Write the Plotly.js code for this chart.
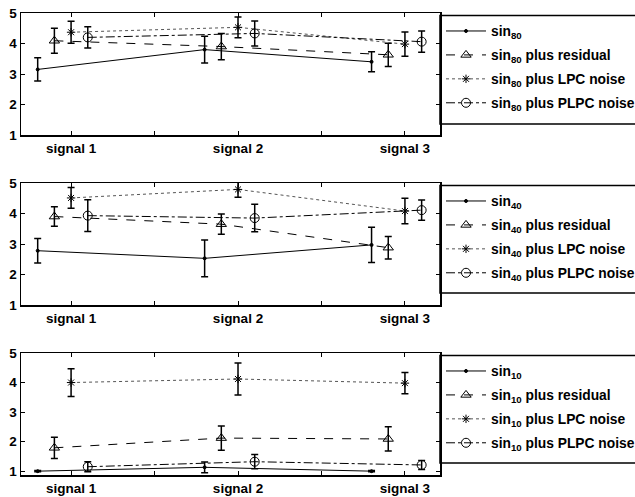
<!DOCTYPE html>
<html>
<head>
<meta charset="utf-8">
<script src="https://cdn.plot.ly/plotly-3.0.1.min.js"></script>
<style>html,body{margin:0;padding:0;background:#fff;}#chart{width:635px;height:497px;}</style>
</head>
<body>
<div id="chart"></div>
<script>
// ---- data ----
const categories = ['signal 1', 'signal 2', 'signal 3'];
const catIndex = [1, 2, 3];
const panelLabels = ['80', '40', '10'];
const seriesSuffix = ['', ' plus residual', ' plus LPC noise', ' plus PLPC noise'];

// panel 1: sin80
const sin80 = [3.15, 3.80, 3.40];
const sin80Err = [0.38, 0.44, 0.33];
const sin80Res = [4.09, 3.90, 3.63];
const sin80ResErr = [0.41, 0.43, 0.38];
const sin80Lpc = [4.37, 4.53, 3.98];
const sin80LpcErr = [0.36, 0.34, 0.40];
const sin80Plpc = [4.20, 4.33, 4.06];
const sin80PlpcErr = [0.35, 0.41, 0.35];

// panel 2: sin40
const sin40 = [2.78, 2.53, 2.97];
const sin40Err = [0.40, 0.60, 0.58];
const sin40Res = [3.90, 3.65, 2.88];
const sin40ResErr = [0.32, 0.33, 0.37];
const sin40Lpc = [4.51, 4.79, 4.08];
const sin40LpcErr = [0.34, 0.26, 0.42];
const sin40Plpc = [3.93, 3.85, 4.11];
const sin40PlpcErr = [0.52, 0.45, 0.33];

// panel 3: sin10
const sin10 = [1.00, 1.13, 1.00];
const sin10Err = [0.02, 0.18, 0.02];
const sin10Res = [1.79, 2.12, 2.09];
const sin10ResErr = [0.36, 0.41, 0.41];
const sin10Lpc = [4.00, 4.12, 3.98];
const sin10LpcErr = [0.47, 0.54, 0.36];
const sin10Plpc = [1.15, 1.32, 1.21];
const sin10PlpcErr = [0.17, 0.24, 0.15];

const yTickVals = [1, 2, 3, 4, 5];
const xMinorTickVals = [1.5, 2.5];

// ---- styles ----
const offsets = [-0.2, -0.1, 0, 0.1];
const styles = [
  {dash: 'solid', symbol: 'circle', size: 3, color: '#000'},
  {dash: 'dash', symbol: 'triangle-up-open', size: 9, color: '#000'},
  {dash: 'dot', symbol: 'asterisk-open', size: 7, color: '#555'},
  {dash: 'dashdot', symbol: 'circle-open', size: 9, color: '#000'}
];

const panels = [
  {vals: [sin80, sin80Res, sin80Lpc, sin80Plpc], errs: [sin80Err, sin80ResErr, sin80LpcErr, sin80PlpcErr]},
  {vals: [sin40, sin40Res, sin40Lpc, sin40Plpc], errs: [sin40Err, sin40ResErr, sin40LpcErr, sin40PlpcErr]},
  {vals: [sin10, sin10Res, sin10Lpc, sin10Plpc], errs: [sin10Err, sin10ResErr, sin10LpcErr, sin10PlpcErr]}
];

const traces = [];
panels.forEach((p, pi) => {
  const ax = pi === 0 ? '' : String(pi + 1);
  p.vals.forEach((v, si) => {
    const st = styles[si];
    traces.push({
      type: 'scatter',
      mode: 'lines+markers',
      x: catIndex.map(c => c + offsets[si]),
      y: v,
      xaxis: 'x' + ax,
      yaxis: 'y' + ax,
      name: 'sin<sub>' + panelLabels[pi] + '</sub>' + seriesSuffix[si],
      legend: pi === 0 ? 'legend' : 'legend' + (pi + 1),
      legendgroup: 'g' + pi + '_' + si,
      line: {color: st.color, width: 1, dash: st.dash},
      marker: {symbol: st.symbol, size: st.size, color: '#000', line: {color: '#000', width: 1}},
      error_y: {type: 'data', array: p.errs[si], visible: true, color: '#000', thickness: 1.5, width: 3.5},
      cliponaxis: false
    });
  });
});

const H = 497, W = 635, plotBottomPx = 475, plotH = 462;
const toPaperY = px => (plotBottomPx - px) / plotH;
const domains = [[toPaperY(135), 1.0], [toPaperY(305), toPaperY(183)], [0.0, toPaperY(353)]];
const yRanges = [[1, 5], [1, 5], [0.87, 5]];
const boxTopPx = [15.5, 185.5, 355.5];
const boxBottomPx = [124, 293, 463];

const fontBase = {family: 'Liberation Sans, Arial, sans-serif', size: 13.5, color: '#000', weight: 'bold'};
const legendFont = {family: 'Liberation Sans, Arial, sans-serif', size: 13.8, color: '#000', weight: 'bold'};

const layout = {
  width: W, height: H,
  margin: {l: 21, r: 195, t: 13, b: 22},
  paper_bgcolor: '#fff', plot_bgcolor: '#fff',
  font: fontBase,
  shapes: [],
  showlegend: true
};

panels.forEach((p, pi) => {
  const ax = pi === 0 ? '' : String(pi + 1);
  layout['xaxis' + ax] = {
    anchor: 'y' + ax,
    range: [0.7, 3.21],
    tickmode: 'array', tickvals: catIndex, ticktext: categories,
    ticks: 'inside', ticklen: 4, tickwidth: 1, tickcolor: '#000',
    minor: {tickmode: 'array', tickvals: xMinorTickVals, ticks: 'inside', ticklen: 4, tickwidth: 1, tickcolor: '#000', showgrid: false},
    showline: true, linecolor: '#000', linewidth: 1.5, mirror: 'ticks',
    showgrid: false, zeroline: false,
    tickfont: fontBase
  };
  layout['yaxis' + ax] = {
    anchor: 'x' + ax,
    domain: domains[pi],
    range: yRanges[pi],
    tickmode: 'array', tickvals: yTickVals,
    ticks: 'inside', ticklen: 4, tickwidth: 1, tickcolor: '#000',
    showline: true, linecolor: '#000', linewidth: 1.5, mirror: 'ticks',
    showgrid: false, zeroline: false,
    tickfont: fontBase
  };
  const lg = {
    x: 441 / W, xanchor: 'left', xref: 'container',
    y: 1 - boxTopPx[pi] / H, yanchor: 'top', yref: 'container',
    bgcolor: 'rgba(0,0,0,0)', borderwidth: 0,
    font: legendFont,
    tracegroupgap: 3,
    itemwidth: 40
  };
  layout[pi === 0 ? 'legend' : 'legend' + (pi + 1)] = lg;
  layout.shapes.push({
    type: 'rect', xref: 'paper', yref: 'paper',
    x0: 1.0, x1: 1.6, y0: toPaperY(boxBottomPx[pi]), y1: toPaperY(boxTopPx[pi]),
    line: {color: '#000', width: 1.5}, fillcolor: 'rgba(0,0,0,0)'
  });
});

Plotly.newPlot('chart', traces, layout, {staticPlot: true, displayModeBar: false});
</script>
</body>
</html>
